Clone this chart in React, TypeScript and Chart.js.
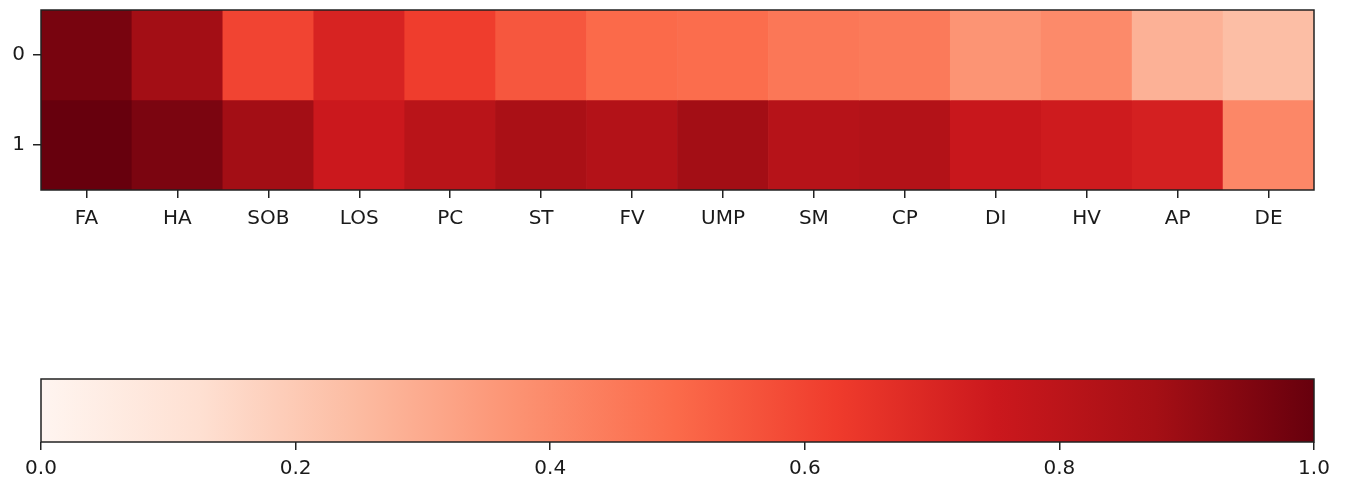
import React, { useEffect, useRef } from "react";
import { Chart, registerables } from "chart.js";

Chart.register(...registerables);

const columns = ["FA", "HA", "SOB", "LOS", "PC", "ST", "FV", "UMP", "SM", "CP", "DI", "HV", "AP", "DE"];
const rowLabels = ["0", "1"];
const row0 = [0.965, 0.88, 0.6, 0.71, 0.62, 0.55, 0.5, 0.49, 0.46, 0.45, 0.37, 0.4, 0.28, 0.24];
const row1 = [1.0, 0.96, 0.88, 0.75, 0.81, 0.86, 0.83, 0.88, 0.82, 0.83, 0.76, 0.74, 0.72, 0.41];
const colorbarTicks = [0, 0.2, 0.4, 0.6, 0.8, 1.0];
const redsStops = ["#fff5f0", "#fee0d2", "#fcbba1", "#fc9272", "#fb6a4a", "#ef3b2c", "#cb181d", "#a50f15", "#67000d"];

function hexToRgb(h: string) {
  const n = parseInt(h.slice(1), 16);
  return [(n >> 16) & 255, (n >> 8) & 255, n & 255];
}

function reds(t: number) {
  const v = Math.max(0, Math.min(1, t)) * (redsStops.length - 1);
  const i = Math.min(Math.floor(v), redsStops.length - 2);
  const f = v - i;
  const a = hexToRgb(redsStops[i]);
  const b = hexToRgb(redsStops[i + 1]);
  const c = a.map((x, k) => Math.round(x + (b[k] - x) * f));
  return `rgb(${c[0]},${c[1]},${c[2]})`;
}

const FONT = { family: "'DejaVu Sans', sans-serif", size: 20 };
const TEXT = "#1a1a1a";
const LINE = "#222222";

const framePlugin = {
  id: "frame",
  afterDraw(chart: any) {
    const { ctx, chartArea } = chart;
    ctx.save();
    ctx.strokeStyle = LINE;
    ctx.lineWidth = 1.5;
    ctx.strokeRect(chartArea.left, chartArea.top, chartArea.right - chartArea.left, chartArea.bottom - chartArea.top);
    ctx.restore();
  },
};

export default function App() {
  const heatRef = useRef<HTMLCanvasElement>(null);
  const barRef = useRef<HTMLCanvasElement>(null);

  useEffect(() => {
    const rows = [row0, row1];
    const heat = new Chart(heatRef.current!, {
      type: "bar",
      data: {
        labels: columns,
        datasets: rows.map((vals, r) => ({
          label: rowLabels[r],
          data: columns.map(() => [r - 0.5, r + 0.5]) as any,
          backgroundColor: vals.map(reds),
          borderWidth: 0,
          barPercentage: 1,
          categoryPercentage: 1,
          grouped: false,
        })),
      },
      options: {
        animation: false,
        responsive: false,
        devicePixelRatio: 1,
        layout: { padding: { left: 0, top: 10, right: 33, bottom: 0 } },
        plugins: { legend: { display: false }, tooltip: { enabled: false } },
        scales: {
          x: {
            type: "category",
            grid: { drawOnChartArea: false, drawTicks: true, tickLength: 8, color: LINE, lineWidth: 1.5, offset: false },
            border: { display: false },
            ticks: { font: FONT, color: TEXT, padding: 9, maxRotation: 0, autoSkip: false },
            afterFit: (s: any) => { s.height = 50; s.paddingLeft = 0; s.paddingRight = 0; },
          },
          y: {
            type: "linear",
            min: -0.5,
            max: 1.5,
            reverse: true,
            grid: { drawOnChartArea: false, drawTicks: true, tickLength: 8, color: LINE, lineWidth: 1.5 },
            border: { display: false },
            afterBuildTicks: (s: any) => { s.ticks = rowLabels.map((_, i) => ({ value: i })); },
            ticks: { font: FONT, color: TEXT, padding: 8, callback: (v: any) => rowLabels[v] ?? "" },
            afterFit: (s: any) => { s.width = 41; s.paddingTop = 0; s.paddingBottom = 0; },
          },
        },
      },
      plugins: [framePlugin],
    });

    const cbar = new Chart(barRef.current!, {
      type: "bar",
      data: {
        labels: ["colorbar"],
        datasets: [
          {
            data: [[colorbarTicks[0], colorbarTicks[colorbarTicks.length - 1]]] as any,
            backgroundColor: (ctx: any) => {
              const ca = ctx.chart.chartArea;
              if (!ca) return redsStops[4];
              const g = ctx.chart.ctx.createLinearGradient(ca.left, 0, ca.right, 0);
              redsStops.forEach((c, i) => g.addColorStop(i / (redsStops.length - 1), c));
              return g;
            },
            borderWidth: 0,
            barPercentage: 1,
            categoryPercentage: 1,
          },
        ],
      },
      options: {
        indexAxis: "y",
        animation: false,
        responsive: false,
        devicePixelRatio: 1,
        layout: { padding: { left: 41, top: 139, right: 33, bottom: 0 } },
        plugins: { legend: { display: false }, tooltip: { enabled: false } },
        scales: {
          y: { display: false },
          x: {
            type: "linear",
            min: 0,
            max: 1,
            grid: { drawOnChartArea: false, drawTicks: true, tickLength: 8, color: LINE, lineWidth: 1.5 },
            border: { display: false },
            afterBuildTicks: (s: any) => { s.ticks = colorbarTicks.map((v) => ({ value: v })); },
            ticks: { font: FONT, color: TEXT, padding: 7, maxRotation: 0, callback: (v: any) => Number(v).toFixed(1) },
            afterFit: (s: any) => { s.height = 40; },
          },
        },
      },
      plugins: [framePlugin],
    });

    return () => {
      heat.destroy();
      cbar.destroy();
    };
  }, []);

  return (
    <div style={{ position: "absolute", left: 0, top: 0, width: 1347, height: 482, background: "#fff" }}>
      <canvas ref={heatRef} width={1347} height={240} style={{ position: "absolute", left: 0, top: 0 }} />
      <canvas ref={barRef} width={1347} height={242} style={{ position: "absolute", left: 0, top: 240 }} />
    </div>
  );
}
